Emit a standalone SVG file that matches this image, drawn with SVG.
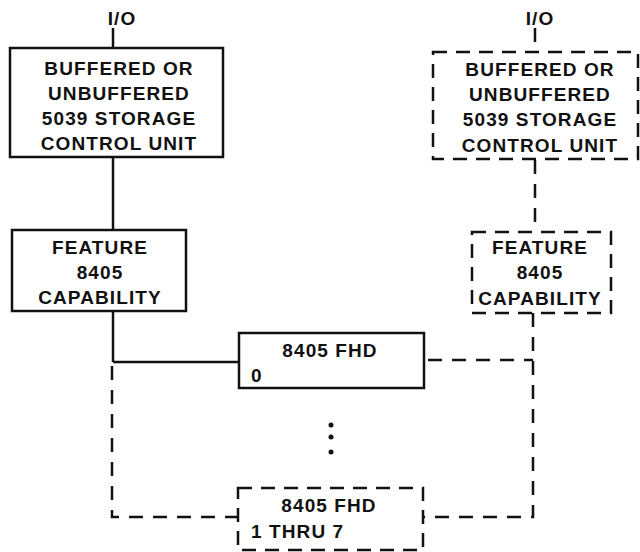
<svg xmlns="http://www.w3.org/2000/svg" width="640" height="552" viewBox="0 0 640 552">
<style>
.t{font-family:"Liberation Sans",Arial,sans-serif;font-weight:bold;font-size:19px;letter-spacing:1.1px;fill:#111;text-anchor:middle}
.st{text-anchor:start}
.s{fill:#fff;stroke:#111;stroke-width:2.5}
.d{fill:#fff;stroke:#111;stroke-width:2.5;stroke-dasharray:14 9}
.l{fill:none;stroke:#111;stroke-width:2.5}
.dl{fill:none;stroke:#111;stroke-width:2.5;stroke-dasharray:14 10}
</style>
<rect width="640" height="552" fill="#fff"/>
<g id="connectors">
<line class="l" x1="113" y1="28" x2="113" y2="48"/>
<line class="l" x1="113" y1="157" x2="113" y2="230"/>
<line class="l" x1="113" y1="311" x2="113" y2="362"/>
<line class="l" x1="113" y1="362" x2="239" y2="362"/>
<polyline class="dl" points="112,366 112,517 238,517"/>
<line class="dl" x1="535" y1="28" x2="535" y2="52"/>
<line class="dl" x1="535" y1="160" x2="535" y2="232"/>
<polyline class="dl" points="533,313 533,517 423,517"/>
<line class="dl" x1="428" y1="360" x2="533" y2="360"/>
</g>
<g id="io-left"><text class="t" x="122" y="25">I/O</text></g>
<g id="io-right"><text class="t" x="540" y="25">I/O</text></g>
<g id="scu-left">
<rect class="s" x="10" y="48" width="213" height="109"/>
<text class="t" x="119" y="75">BUFFERED OR</text>
<text class="t" x="119" y="100">UNBUFFERED</text>
<text class="t" x="119" y="125">5039 STORAGE</text>
<text class="t" x="119" y="150">CONTROL UNIT</text>
</g>
<g id="scu-right">
<rect class="d" x="433" y="52" width="205" height="107"/>
<text class="t" x="540" y="76">BUFFERED OR</text>
<text class="t" x="540" y="101">UNBUFFERED</text>
<text class="t" x="540" y="126">5039 STORAGE</text>
<text class="t" x="540" y="152">CONTROL UNIT</text>
</g>
<g id="feature-left">
<rect class="s" x="12" y="230" width="174" height="81"/>
<text class="t" x="100" y="254">FEATURE</text>
<text class="t" x="100" y="279">8405</text>
<text class="t" x="100" y="304">CAPABILITY</text>
</g>
<g id="feature-right">
<rect class="d" x="472" y="232" width="139" height="81"/>
<text class="t" x="540" y="254">FEATURE</text>
<text class="t" x="540" y="279">8405</text>
<text class="t" x="540" y="305">CAPABILITY</text>
</g>
<g id="fhd-0">
<rect class="s" x="239" y="333" width="185" height="55"/>
<text class="t" x="330" y="357">8405 FHD</text>
<text class="t st" x="251" y="382">0</text>
</g>
<g id="dots">
<circle cx="331" cy="425" r="2.5" fill="#111"/>
<circle cx="331" cy="437" r="2.5" fill="#111"/>
<circle cx="331" cy="452" r="2.5" fill="#111"/>
</g>
<g id="fhd-1-7">
<rect class="d" x="238" y="488" width="185" height="62"/>
<text class="t" x="329" y="512">8405 FHD</text>
<text class="t st" x="251" y="538">1 THRU 7</text>
</g>
</svg>
